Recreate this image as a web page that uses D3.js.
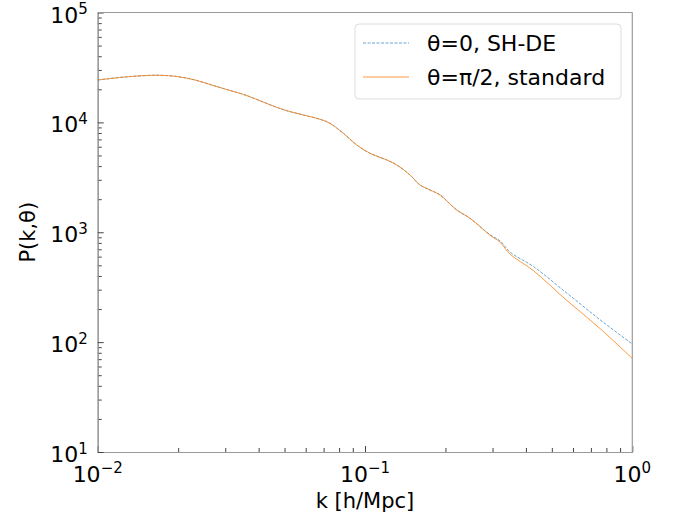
<!DOCTYPE html>
<html><head><meta charset="utf-8">
<script src="https://cdn.jsdelivr.net/npm/d3@7"></script>
<style>
body{margin:0;background:#fff}
svg text{font-family:"DejaVu Sans",sans-serif;fill:#000}
</style>
</head><body>
<svg id="chart" width="677" height="518"></svg>
<script>
// ---- data ----
const kValues = [0.0100, 0.01302, 0.01685, 0.02002, 0.02312, 0.02669, 0.03081, 0.03557, 0.04605, 0.05093,
  0.05876, 0.06787, 0.07394, 0.08295, 0.09309, 0.1044, 0.1206, 0.1314, 0.1473, 0.1606,
  0.1750, 0.1908, 0.2203, 0.2470, 0.2935, 0.3200, 0.3488, 0.4262, 0.5683, 0.7570, 1.0];
const pSHDE = [24300, 26050, 26840, 26050, 24300, 21890, 19710, 17760, 13900, 12780,
  11680, 10670, 9810, 7960, 6230, 5235, 4549, 4098, 3322, 2695,
  2426, 2185, 1595, 1341, 950, 835, 660, 488, 280, 160, 96];
const pStandard = [24300, 26050, 26840, 26050, 24300, 21890, 19710, 17760, 13900, 12780,
  11680, 10670, 9810, 7960, 6230, 5235, 4549, 4098, 3322, 2695,
  2426, 2185, 1595, 1341, 940, 812, 632, 448, 240, 133, 71];
const seriesNames = ["θ=0, SH-DE", "θ=π/2, standard"];
const xTickValues = [0.01, 0.1, 1];
const xTickExponents = ["−2", "−1", "0"];
const yTickValues = [10, 100, 1000, 10000, 100000];
const yTickExponents = ["1", "2", "3", "4", "5"];
const xLabel = "k [h/Mpc]";
const yLabel = "P(k,θ)";

// ---- layout ----
const L = 97.7, R = 632.3, T = 12.5, B = 452;
const svg = d3.select("#chart");
const x = d3.scaleLog().domain([0.01, 1]).range([L, R]);
const y = d3.scaleLog().domain([10, 1e5]).range([B, T]);

function minors(lo, hi) {
  const out = [];
  for (let d = lo; d < hi; d *= 10) for (let m = 2; m <= 9; m++) out.push(d * m);
  return out;
}
const spineColor = "#9a9a9a", tickColor = "#444";

// minor ticks
const gxm = svg.append("g").attr("transform", `translate(0,${B})`)
  .call(d3.axisBottom(x).tickValues(minors(0.01, 1)).tickSize(-4).tickSizeOuter(0).tickFormat(""));
const gym = svg.append("g").attr("transform", `translate(${L},0)`)
  .call(d3.axisLeft(y).tickValues(minors(10, 1e5)).tickSize(-4).tickSizeOuter(0).tickFormat(""));
// major ticks
const gx = svg.append("g").attr("transform", `translate(0,${B})`)
  .call(d3.axisBottom(x).tickValues(xTickValues).tickSize(-6).tickSizeOuter(0).tickFormat(""));
const gy = svg.append("g").attr("transform", `translate(${L},0)`)
  .call(d3.axisLeft(y).tickValues(yTickValues).tickSize(-6).tickSizeOuter(0).tickFormat(""));
[gxm, gym, gx, gy].forEach(g => {
  g.selectAll(".tick line").attr("stroke", tickColor).attr("stroke-width", 1);
  g.select(".domain").attr("stroke", spineColor).attr("stroke-width", 1.2);
});
// top & right spines
svg.append("line").attr("x1", L).attr("x2", R).attr("y1", T).attr("y2", T).attr("stroke", spineColor).attr("stroke-width", 1.2);
svg.append("line").attr("x1", R).attr("x2", R).attr("y1", T).attr("y2", B).attr("stroke", spineColor).attr("stroke-width", 1.2);

// tick labels with superscripts
xTickValues.forEach((v, i) => {
  const t = svg.append("text").attr("x", x(v)).attr("y", B + 30).attr("text-anchor", "middle").attr("font-size", 22);
  t.append("tspan").text("10");
  t.append("tspan").attr("font-size", 15).attr("dy", -9).text(xTickExponents[i]);
});
yTickValues.forEach((v, i) => {
  const t = svg.append("text").attr("x", L - 10).attr("y", y(v) + 10).attr("text-anchor", "end").attr("font-size", 22);
  t.append("tspan").text("10");
  t.append("tspan").attr("font-size", 15).attr("dy", -8.5).text(yTickExponents[i]);
});

// axis labels
svg.append("text").attr("x", (L + R) / 2).attr("y", 508).attr("text-anchor", "middle").attr("font-size", 21).text(xLabel);
svg.append("text").attr("transform", `translate(35,${(T + B) / 2}) rotate(-90)`).attr("text-anchor", "middle").attr("font-size", 21).text(yLabel);

// lines
svg.append("clipPath").attr("id", "clip").append("rect").attr("x", L).attr("y", T).attr("width", R - L).attr("height", B - T);
const line = d3.line().x(d => x(d[0])).y(d => y(d[1])).curve(d3.curveCatmullRom.alpha(0.5));
const colors = ["#1f77b4", "#ff7f0e"];
svg.append("path").datum(kValues.map((k, i) => [k, pSHDE[i]]))
  .attr("d", line).attr("fill", "none").attr("stroke", colors[0]).attr("stroke-width", 0.9)
  .attr("stroke-opacity", 0.75).attr("stroke-dasharray", "3,1.5").attr("clip-path", "url(#clip)");
svg.append("path").datum(kValues.map((k, i) => [k, pStandard[i]]))
  .attr("d", line).attr("fill", "none").attr("stroke", colors[1]).attr("stroke-width", 1)
  .attr("stroke-opacity", 0.8).attr("clip-path", "url(#clip)");

// legend
const lg = svg.append("g");
lg.append("rect").attr("x", 355).attr("y", 24).attr("width", 266).attr("height", 75).attr("rx", 4)
  .attr("fill", "#fff").attr("fill-opacity", 0.8).attr("stroke", "#dcdcdc").attr("stroke-width", 1);
const rows = [{y: 43, dash: "3,1.5", w: 0.9}, {y: 77, dash: null, w: 1}];
rows.forEach((r, i) => {
  lg.append("line").attr("x1", 363).attr("x2", 409).attr("y1", r.y).attr("y2", r.y)
    .attr("stroke", colors[i]).attr("stroke-width", r.w).attr("stroke-opacity", i ? 0.8 : 0.75)
    .attr("stroke-dasharray", r.dash);
  lg.append("text").attr("x", 427).attr("y", r.y + 8).attr("font-size", 22).text(seriesNames[i]);
});
</script>
</body></html>
